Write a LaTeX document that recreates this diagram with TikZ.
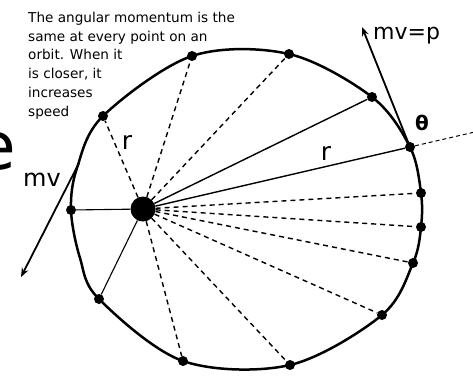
\documentclass[tikz,border=0pt]{standalone}
\usepackage{fontspec}
\setmainfont{DejaVu Sans}
\usetikzlibrary{arrows.meta}
\begin{document}
\begin{tikzpicture}[x=1pt,y=-1pt,
  orbitline/.style={line width=2.5pt},
  solidray/.style={line width=1.4pt},
  thinray/.style={line width=1.1pt},
  dashray/.style={line width=1.4pt, dash pattern=on 5pt off 4pt},
  planet/.style={circle,fill=black,inner sep=0pt,minimum size=10pt},
  vel/.style={line width=1.8pt,-{Stealth[length=9pt,width=7pt]}},
  lbl/.style={inner sep=0pt,font=\fontsize{22}{24}\selectfont},
  note/.style={inner sep=0pt,anchor=base west,font=\fontsize{13.6}{16}\selectfont}
]
\useasboundingbox (0,0) rectangle (473,376);
% big partial title letter
\node[inner sep=0pt,anchor=base east,font=\fontsize{66}{70}\selectfont] (bige) at (16,169) {e};
% explanatory text
\node[note] (t1) at (28,22) {The angular momentum is the};
\node[note] (t2) at (28,41) {same at every point on an};
\node[note] (t3) at (28,59.5) {orbit. When it};
\node[note] (t4) at (28,78) {is closer, it};
\node[note] (t5) at (28,97) {increases};
\node[note] (t6) at (28,116) {speed};
% sun
\node[circle,fill=black,inner sep=0pt,minimum size=25pt] (sun) at (143,209) {};
% planets
\foreach \n/\x/\y in {1/103/116, 2/192/56, 3/289/54, 4/372/97, 5/410/147, 6/421/193,
  7/421/227, 8/413/263, 9/382/315, 10/290/365, 11/183/361, 12/99/299, 13/71/210}
  \node[planet] (p\n) at (\x,\y) {};
% orbit
\draw[orbitline] plot[smooth cycle, tension=0.55] coordinates {
  (p1.center) (p2.center) (p3.center) (p4.center) (p5.center) (p6.center)
  (p7.center) (p8.center) (p9.center) (p10.center) (p11.center) (p12.center)
  (80,258) (p13.center) (77,168)};
% rays
\foreach \n in {1,2,3,6,7,8,9,10,11} \draw[dashray] (sun) -- (p\n);
\draw[solidray] (sun) -- (p4);
\draw[solidray] (sun) -- (p5);
\draw[thinray] (sun) -- (p12);
\draw[thinray] (sun) -- (p13);
% extension of the radius
\coordinate (ext) at (473,132.4);
\draw[line width=1pt, dash pattern=on 4pt off 3pt] (p5) -- (ext);
% velocity arrows
\coordinate (vtip) at (362,27);
\draw[vel] (p5.center) -- (vtip);
\coordinate (vstart) at (79,163);
\coordinate (vtip2) at (21,277);
\draw[vel] (vstart) -- (vtip2);
% labels
\node[lbl,anchor=west] (mvp) at (373,36) {mv=p};
\node[lbl,font=\fontsize{24}{26}\selectfont] (mvl) at (42,180) {mv};
\node[lbl,font=\fontsize{25}{27}\selectfont] (r1) at (127,142) {r};
\node[lbl,font=\fontsize{25}{27}\selectfont] (r2) at (326,153) {r};
\node[lbl,font=\bfseries\fontsize{20}{22}\selectfont] (th) at (422,123) {θ};
\end{tikzpicture}
\end{document}
